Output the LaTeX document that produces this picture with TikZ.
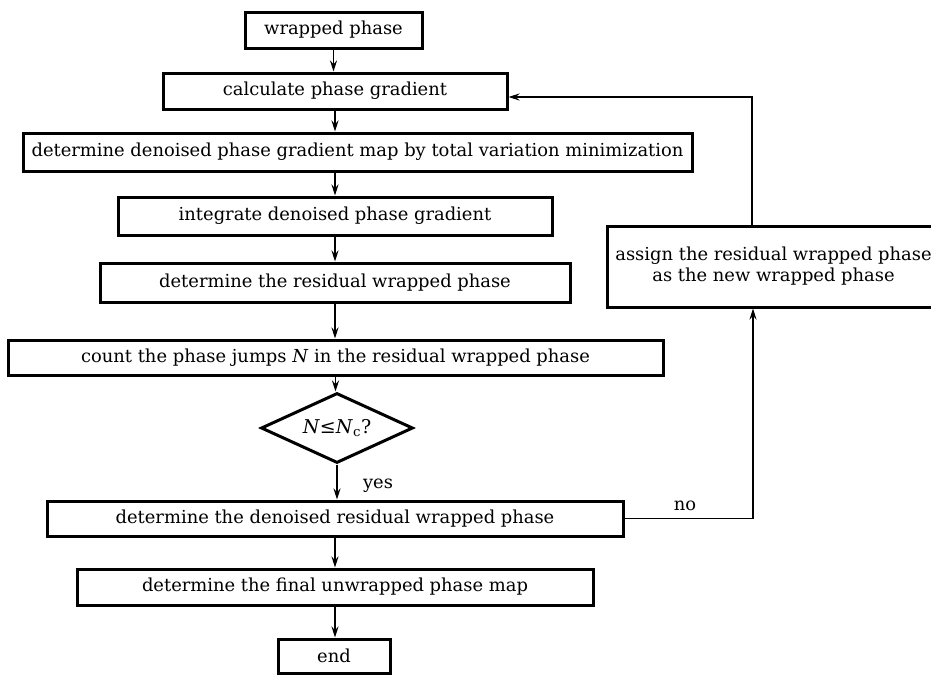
\documentclass[tikz,border=0pt]{standalone}
\usepackage{fontspec}
\setmainfont{DejaVu Serif}
\usetikzlibrary{shapes.geometric,arrows.meta}
\begin{document}
\begin{tikzpicture}[x=1pt,y=-1pt,
  font=\fontsize{17.9}{21}\selectfont,
  stepbox/.style={draw,line width=3pt,inner sep=0pt,align=center},
  decide/.style={draw,diamond,line width=3pt,inner sep=0pt,aspect=2.17},
  arr/.style={line width=1.5pt,-{Stealth[length=11pt,width=7pt]}},
  lbl/.style={inner sep=1pt}]
\clip (0,0) rectangle (931,675);
\fill[white] (0,0) rectangle (931,675);
\node[stepbox,minimum width=177,minimum height=36] (b1) at (333.5,30) {wrapped phase};
\node[stepbox,minimum width=344,minimum height=36] (b2) at (335,91) {calculate phase gradient};
\node[stepbox,minimum width=669,minimum height=38] (b3) at (357.5,152) {determine denoised phase gradient map by total variation minimization};
\node[stepbox,minimum width=434,minimum height=38] (b4) at (335,216) {integrate denoised phase gradient};
\node[stepbox,minimum width=470,minimum height=39] (b5) at (335,282.5) {determine the residual wrapped phase};
\node[stepbox,minimum width=655,minimum height=35] (b6) at (335.5,357.5) {count the phase jumps \textit{N} in the residual wrapped phase};
\node[decide,minimum width=152,minimum height=70] (d) at (337,428) {\fontsize{19}{21}\selectfont\textit{N}≤\textit{N}\textsubscript{\upshape c}?};
\node[stepbox,minimum width=576,minimum height=35] (b8) at (335,518.5) {determine the denoised residual wrapped phase};
\node[stepbox,minimum width=516,minimum height=36] (b9) at (335,587) {determine the final unwrapped phase map};
\node[stepbox,minimum width=112,minimum height=34] (e) at (334,656) {end};
\node[stepbox,minimum width=333,minimum height=81] (a) at (773.5,266.5) {assign the residual wrapped phase\\as the new wrapped phase};
\draw[arr] (b1.south) -- (b1.south |- b2.north);
\draw[arr] (b2.south) -- (b2.south |- b3.north);
\draw[arr] (b2.south |- b3.south) -- (b2.south |- b4.north);
\draw[arr] (b4.south) -- (b4.south |- b5.north);
\draw[arr] (b5.south) -- (b5.south |- b6.north);
\draw[arr] (b6.south) -- (b6.south |- d.north);
\draw[arr] (d.south) -- (d.south |- b8.north);
\draw[arr] (b8.south) -- (b8.south |- b9.north);
\draw[arr] (b9.south) -- (b9.south |- e.north);
\draw[arr,line width=1.2pt] ([xshift=-21.5pt]a.north) |- ([yshift=-6pt]b2.east);
\draw[arr,line width=1.2pt] (b8.east) -| ([xshift=-20.5pt]a.south);
\node[lbl] (yes) at (378,486) {yes};
\node[lbl] (no) at (685,506) {no};
\end{tikzpicture}
\end{document}
